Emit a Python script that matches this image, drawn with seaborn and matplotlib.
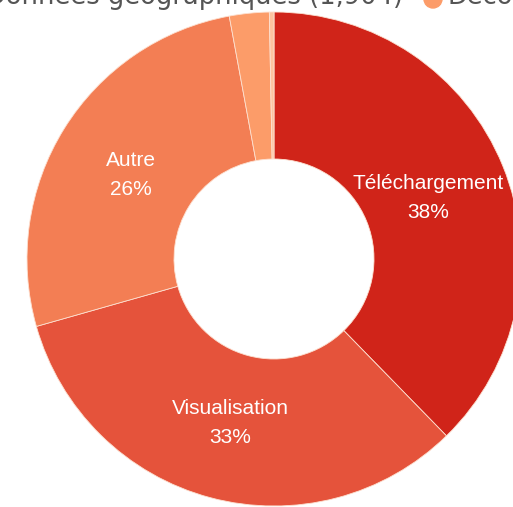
import matplotlib.pyplot as plt
import seaborn as sns

# slice data, clockwise from the top
categories = ["Téléchargement", "Visualisation", "Autre", "Découverte", "Autre (petit)"]
shares = [37.7, 32.9, 26.5, 2.6, 0.3]
show_label = [True, True, True, False, False]
colors = ["#d02419", "#e5533b", "#f37e54", "#fc9c69", "#fdc3a0"]

legend_left = "Données géographiques (1,904)"
legend_right = "Découverte"

W, H = 513, 507


def py(y):
    # pixel row from the top -> data y
    return H - y


def main():
    sns.set_theme(style="white")
    plt.rcParams["font.family"] = ["Liberation Sans", "DejaVu Sans"]

    fig = plt.figure(figsize=(W / 100, H / 100), dpi=100)
    ax = fig.add_axes([0, 0, 1, 1])

    cx, cy, r = 274, py(259), 247
    ax.pie(
        shares,
        colors=colors,
        startangle=90,
        counterclock=False,
        center=(cx, cy),
        radius=r,
        wedgeprops=dict(width=r - 100, edgecolor="#fde0d0", linewidth=0.6),
        frame=True,
    )
    ax.set_xlim(0, W)
    ax.set_ylim(0, H)
    ax.set_aspect("equal")
    ax.axis("off")

    label_pos = {"Téléchargement": (428, 198), "Visualisation": (230, 423), "Autre": (131, 175)}
    for name, share, show in zip(categories, shares, show_label):
        if not show:
            continue
        x, y = label_pos[name]
        ax.text(x, py(y), f"{name}\n{round(share)}%", color="white", fontsize=15,
                ha="center", va="center", linespacing=1.7)

    # legend, mostly cut off by the top edge
    ax.text(403, py(4), legend_left, ha="right", va="baseline", fontsize=18.5,
            color="#555555", family=["DejaVu Sans"])
    ax.add_patch(plt.Circle((433, py(-1)), 9, color=colors[3], clip_on=False))
    ax.text(448, py(4), legend_right, ha="left", va="baseline", fontsize=18.5,
            color="#555555", family=["DejaVu Sans"])

    fig.savefig("out.png", dpi=100)


if __name__ == "__main__":
    main()
